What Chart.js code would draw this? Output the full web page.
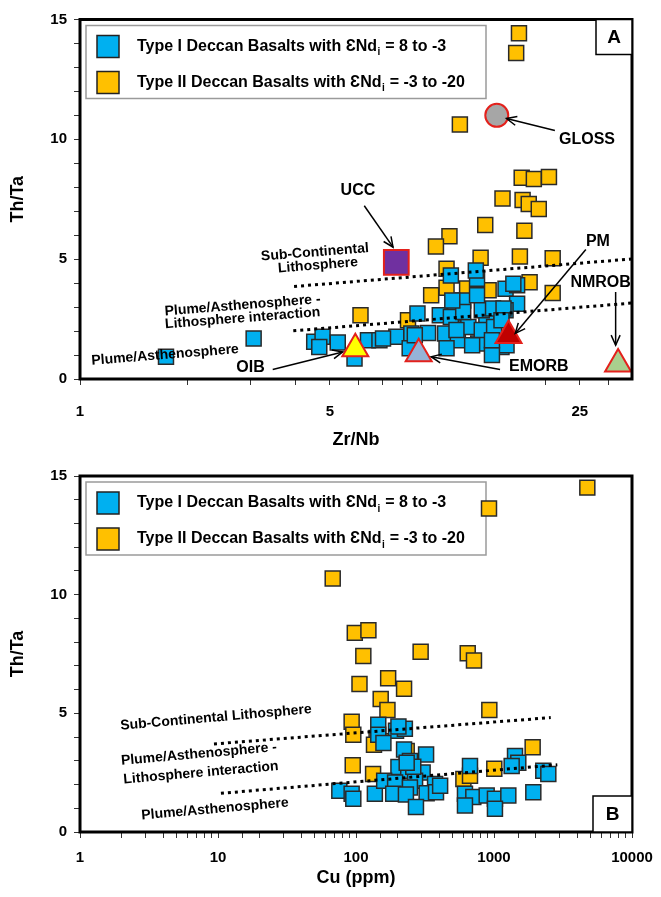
<!DOCTYPE html>
<html>
<head>
<meta charset="utf-8">
<script src="https://cdn.jsdelivr.net/npm/chart.js@4.4.1/dist/chart.umd.min.js"></script>
<style>
  html, body { margin: 0; padding: 0; background: #fff; }
  #wrap { position: relative; width: 661px; height: 897px; }
  canvas { position: absolute; left: 0; }
  #chartA { top: 0; }
  #chartB { top: 460px; }
</style>
</head>
<body>
<div id="wrap">
  <canvas id="chartA" width="661" height="460"></canvas>
  <canvas id="chartB" width="661" height="437"></canvas>
</div>
<script>
const FONT = "'Liberation Sans', Arial, sans-serif";
const BLUE = '#00B0F0';
const YELLOW = '#FFC000';
const RED = '#E3211C';

const seriesNames = [
    'Type I Deccan Basalts with ƐNd_i = 8 to -3',
    'Type II Deccan Basalts with ƐNd_i = -3 to -20',
];

// Panel A: Zr/Nb vs Th/Ta
const typeIZrNb = [1.74, 3.06, 4.52, 4.77, 4.67, 5.26, 5.86, 6.39, 6.88, 7.67, 8.45, 9.41, 10.5, 11.4, 13.0,
    15.1, 15.6, 10.6, 14.2, 8.36, 8.79, 10.15, 11.2, 11.8, 12.9, 10.9, 12.9, 12.8, 15.5, 16.7,
    16.7, 15.5, 13.7, 12.2, 13.3, 14.4, 10.9, 13.3, 14.3, 15.3, 15.1, 11.3, 8.64, 7.04, 14.2,
    12.5, 11.8, 16.3, 11.0];
const typeIThTaA = [0.93, 1.69, 1.55, 1.76, 1.34, 1.52, 0.86, 1.62, 1.62, 1.76, 1.90, 1.92, 1.90, 1.62, 1.48,
    1.34, 1.41, 1.28, 1.00, 1.28, 2.73, 2.66, 2.73, 3.28, 3.49, 4.32, 4.18, 4.53, 3.77, 3.91,
    3.14, 2.87, 2.59, 2.17, 2.04, 2.17, 2.59, 2.87, 2.94, 2.94, 2.45, 2.04, 1.83, 1.69, 1.62,
    1.41, 2.80, 3.97, 3.28];
const typeIIZrNb = [16.9, 16.6, 11.55, 17.2, 18.6, 20.5, 15.2, 17.3, 18.0, 19.2, 13.6, 17.5, 10.8, 9.9, 13.2,
    17.0, 21.0, 10.6, 10.6, 9.6, 18.1, 21.0, 6.09, 12.1, 13.9, 8.27];
const typeIIThTaA = [14.43, 13.6, 10.62, 8.40, 8.34, 8.43, 7.53, 7.47, 7.30, 7.09, 6.43, 6.19, 5.96, 5.53, 5.06,
    5.11, 5.04, 4.60, 3.81, 3.49, 4.04, 3.59, 2.66, 3.78, 3.70, 2.45];

const refNames = ['GLOSS', 'UCC', 'OIB', 'EMORB', 'PM', 'NMROB'];
const refZrNb = [14.65, 7.67, 5.89, 8.86, 15.8, 32.0];
const refThTa = [11.0, 4.87, 1.26, 1.05, 1.81, 0.63];

// Panel B: Cu vs Th/Ta
const typeICu = [75.7, 93, 95.6, 137, 145, 145, 195, 226, 158, 223, 322, 246, 203, 239, 304,
    160, 192, 268, 374, 246, 186, 230, 325, 380, 272, 670, 1420, 1500, 1343, 2276,
    2475, 616, 708, 885, 1016, 1270, 1927, 616, 1016, 203, 260, 407, 233];
const typeIThTaB = [1.74, 1.61, 1.40, 1.61, 4.52, 4.10, 4.27, 4.35, 3.75, 3.48, 3.27, 2.99, 2.74, 2.58, 2.51,
    2.16, 2.09, 2.16, 2.02, 1.88, 1.61, 1.58, 1.63, 1.67, 1.05, 2.78, 3.20, 2.92, 2.78, 2.58,
    2.44, 1.61, 1.47, 1.54, 1.40, 1.54, 1.67, 1.12, 0.98, 4.45, 2.75, 1.95, 2.92];
const typeIICu = [67.8, 98, 123, 113, 294, 645, 716, 4745, 920, 106, 171, 223, 151, 169, 925,
    93, 95.6, 141, 153, 135, 1906, 94.7, 133, 1005, 600, 670, 233];
const typeIIThTaB = [10.68, 8.39, 8.50, 7.42, 7.59, 7.53, 7.23, 14.51, 13.63, 6.24, 6.48, 6.04, 5.60, 5.14, 5.14,
    4.65, 4.10, 3.96, 3.82, 3.68, 3.57, 2.81, 2.44, 2.67, 2.23, 2.37, 3.41];

// boundary lines (end points)
const upperLineA = [[3.97, 3.86], [35, 5.01]];
const lowerLineA = [[3.95, 2.01], [35, 3.17]];
const upperLineB = [[9.35, 3.71], [2577, 4.82]];
const lowerLineB = [[10.5, 1.63], [2876, 2.83]];

// axis ticks and labels
const thTaLabels = [0, 5, 10, 15];
const zrNbTicks = [1, 2, 3, 4, 5, 6, 7, 8, 9, 10, 20, 25, 30];
const zrNbLabels = [1, 5, 25];
const cuLabels = [1, 10, 100, 1000, 10000];

// annotations in data coordinates
const calloutText = ['UCC', 'GLOSS', 'PM', 'NMROB', 'EMORB', 'OIB'];
const calloutAt = [[5.99, 7.85], [26.2, 10.0], [28.1, 5.73], [28.6, 4.04], [19.2, 0.51], [3.0, 0.49]];
const arrowFrom = [[6.24, 7.23], [21.3, 10.37], [26.0, 5.40], [31.5, 3.63], [14.96, 0.40], [3.46, 0.40]];
const arrowTo = [[7.51, 5.50], [15.6, 10.87], [16.5, 1.90], [31.5, 1.41], [9.6, 0.93], [5.43, 1.13]];

const zoneTextA = ['Sub-Continental', 'Lithosphere', 'Plume/Asthenosphere -', 'Lithosphere interaction', 'Plume/Asthenosphere'];
const zoneAtA = [[4.54, 5.28], [4.63, 4.74], [2.85, 3.07], [2.85, 2.53], [1.73, 1.0]];
const zoneTextB = ['Sub-Continental Lithosphere', 'Plume/Asthenosphere -', 'Lithosphere interaction', 'Plume/Asthenosphere'];
const zoneAtB = [[9.67, 4.82], [7.28, 3.28], [7.53, 2.49], [9.51, 0.96]];

const refStyles = {
    GLOSS: { shape: 'circle', r: 11.5, fill: '#A6A6A6' },
    UCC: { shape: 'rect', r: 17.5, fill: '#7030A0' },
    OIB: { shape: 'triangle', r: 15, fill: '#FFFF00' },
    EMORB: { shape: 'triangle', r: 15, fill: '#95B3D7' },
    PM: { shape: 'triangle', r: 15, fill: '#C00000' },
    NMROB: { shape: 'triangle', r: 15, fill: '#A9D08E' },
};

function toPoints(xs, ys) {
    return xs.map((x, i) => ({ x, y: ys[i] }));
}

function squares(label, xs, ys, color, order) {
    return {
        label,
        data: toPoints(xs, ys),
        pointStyle: 'rect',
        pointRadius: 10.6,
        pointHoverRadius: 10.6,
        backgroundColor: color,
        borderColor: '#2a2a2a',
        borderWidth: 1.5,
        order,
    };
}

function dotted(line) {
    return {
        type: 'line',
        label: 'boundary',
        data: line.map(p => ({ x: p[0], y: p[1] })),
        showLine: true,
        borderColor: '#000',
        borderWidth: 3,
        borderDash: [3, 4],
        borderCapStyle: 'butt',
        pointRadius: 0,
        fill: false,
        order: 0,
    };
}

function drawArrow(ctx, x1, y1, x2, y2) {
    const a = Math.atan2(y2 - y1, x2 - x1);
    const h = 11;
    ctx.beginPath();
    ctx.moveTo(x1, y1);
    ctx.lineTo(x2, y2);
    ctx.stroke();
    ctx.beginPath();
    ctx.moveTo(x2 - h * Math.cos(a - 0.42), y2 - h * Math.sin(a - 0.42));
    ctx.lineTo(x2, y2);
    ctx.lineTo(x2 - h * Math.cos(a + 0.42), y2 - h * Math.sin(a + 0.42));
    ctx.stroke();
}

function drawLegend(ctx, ca) {
    const left = ca.left + 6;
    const top = ca.top + 6;
    ctx.save();
    ctx.fillStyle = '#fff';
    ctx.fillRect(left, top, 400, 73);
    ctx.strokeStyle = '#9a9a9a';
    ctx.lineWidth = 1.5;
    ctx.strokeRect(left, top, 400, 73);
    [BLUE, YELLOW].forEach((color, i) => {
        const cy = top + 21 + i * 36;
        ctx.fillStyle = color;
        ctx.fillRect(left + 11, cy - 11, 22, 22);
        ctx.strokeStyle = '#222';
        ctx.lineWidth = 1.5;
        ctx.strokeRect(left + 11, cy - 11, 22, 22);

        const parts = seriesNames[i].split('_i');
        let x = left + 51;
        ctx.fillStyle = '#000';
        ctx.textBaseline = 'middle';
        ctx.textAlign = 'left';
        ctx.font = 'bold 16px ' + FONT;
        ctx.fillText(parts[0], x, cy);
        x += ctx.measureText(parts[0]).width;
        ctx.font = 'bold 10px ' + FONT;
        ctx.fillText('i', x + 0.5, cy + 6);
        x += ctx.measureText('i').width + 1;
        ctx.font = 'bold 16px ' + FONT;
        ctx.fillText(parts[1], x, cy);
    });
    ctx.restore();
}

function makeDecor(opts) {
    return {
        id: 'decor' + opts.tag,
        beforeDatasetsDraw(chart) {
            drawLegend(chart.ctx, chart.chartArea);
        },
        afterDraw(chart) {
            const { ctx, chartArea: ca, scales } = chart;
            const px = p => [scales.x.getPixelForValue(p[0]), scales.y.getPixelForValue(p[1])];
            ctx.save();

            // frame
            ctx.strokeStyle = '#000';
            ctx.lineWidth = 3;
            ctx.strokeRect(ca.left, ca.top, ca.width, ca.height);

            // panel tag
            const tw = opts.tagW, th = opts.tagH;
            const tx = ca.right - tw;
            const ty = opts.tagAtTop ? ca.top : ca.bottom - th;
            ctx.fillStyle = '#fff';
            ctx.fillRect(tx, ty, tw, th);
            ctx.lineWidth = 1.5;
            ctx.strokeRect(tx, ty, tw, th);
            ctx.fillStyle = '#000';
            ctx.font = 'bold 19px ' + FONT;
            ctx.textAlign = 'center';
            ctx.textBaseline = 'middle';
            ctx.fillText(opts.tag, tx + tw / 2, ty + th / 2 + 1);

            // zone labels
            ctx.font = 'bold 14px ' + FONT;
            opts.zoneText.forEach((t, i) => {
                const [x, y] = px(opts.zoneAt[i]);
                ctx.save();
                ctx.translate(x, y);
                ctx.rotate(opts.zoneAngle * Math.PI / 180);
                ctx.fillText(t, 0, 0);
                ctx.restore();
            });

            // callouts with arrows
            if (opts.callouts) {
                ctx.font = 'bold 16px ' + FONT;
                ctx.lineWidth = 1.5;
                ctx.strokeStyle = '#000';
                calloutText.forEach((t, i) => {
                    const [x, y] = px(calloutAt[i]);
                    ctx.fillText(t, x, y);
                    const [x1, y1] = px(arrowFrom[i]);
                    const [x2, y2] = px(arrowTo[i]);
                    drawArrow(ctx, x1, y1, x2, y2);
                });
            }
            ctx.restore();
        },
    };
}

function yAxis() {
    return {
        min: 0,
        max: 15,
        afterFit: s => { s.width = 80; },
        ticks: {
            stepSize: 1,
            autoSkip: false,
            padding: 7,
            color: '#000',
            font: { family: FONT, size: 15, weight: 'bold' },
            callback: v => (thTaLabels.includes(v) ? String(v) : ''),
        },
        grid: { drawOnChartArea: false, drawTicks: true, tickLength: 6, color: '#333', lineWidth: 1 },
        border: { display: false },
        title: {
            display: true,
            text: 'Th/Ta',
            color: '#000',
            font: { family: FONT, size: 18, weight: 'bold' },
            padding: { top: 7, bottom: 0 },
        },
    };
}

function xAxis(max, tickValues, labels, title, height, labelPad, titlePad) {
    return {
        type: 'logarithmic',
        min: 1,
        max,
        afterFit: s => {
            s.height = height;
            s.paddingLeft = 0;
            s.paddingRight = 0;
        },
        afterBuildTicks: s => {
            if (tickValues) s.ticks = tickValues.map(v => ({ value: v }));
        },
        ticks: {
            autoSkip: false,
            maxRotation: 0,
            padding: labelPad,
            color: '#000',
            font: { family: FONT, size: 15, weight: 'bold' },
            callback: v => (labels.includes(v) ? String(v) : ''),
        },
        grid: { drawOnChartArea: false, drawTicks: true, tickLength: 6, color: '#333', lineWidth: 1 },
        border: { display: false },
        title: {
            display: true,
            text: title,
            color: '#000',
            font: { family: FONT, size: 18, weight: 'bold' },
            padding: { top: 0, bottom: titlePad },
        },
    };
}

function refDataset() {
    return {
        label: 'Reference reservoirs',
        data: toPoints(refZrNb, refThTa),
        pointStyle: refNames.map(n => refStyles[n].shape),
        pointRadius: refNames.map(n => refStyles[n].r),
        pointHoverRadius: refNames.map(n => refStyles[n].r),
        backgroundColor: refNames.map(n => refStyles[n].fill),
        borderColor: RED,
        borderWidth: 2,
        order: 1,
    };
}

const baseOptions = {
    responsive: false,
    animation: false,
    events: [],
    plugins: { legend: { display: false }, tooltip: { enabled: false } },
};

new Chart(document.getElementById('chartA'), {
    type: 'scatter',
    data: {
        datasets: [
            dotted(upperLineA),
            dotted(lowerLineA),
            refDataset(),
            squares(seriesNames[0], typeIZrNb, typeIThTaA, BLUE, 2),
            squares(seriesNames[1], typeIIZrNb, typeIIThTaA, YELLOW, 3),
        ],
    },
    options: {
        ...baseOptions,
        layout: { padding: { top: 18, right: 29, left: 0, bottom: 0 } },
        scales: {
            x: xAxis(35, zrNbTicks, zrNbLabels, 'Zr/Nb', 81, 18, 9),
            y: yAxis(),
        },
    },
    plugins: [makeDecor({
        tag: 'A', tagW: 36, tagH: 35, tagAtTop: true,
        zoneText: zoneTextA, zoneAt: zoneAtA, zoneAngle: -4.5, callouts: true,
    })],
});

new Chart(document.getElementById('chartB'), {
    type: 'scatter',
    data: {
        datasets: [
            dotted(upperLineB),
            dotted(lowerLineB),
            squares(seriesNames[0], typeICu, typeIThTaB, BLUE, 2),
            squares(seriesNames[1], typeIICu, typeIIThTaB, YELLOW, 3),
        ],
    },
    options: {
        ...baseOptions,
        layout: { padding: { top: 11, right: 29, left: 0, bottom: 0 } },
        scales: {
            x: xAxis(10000, null, cuLabels, 'Cu (ppm)', 65, 11, 8),
            y: yAxis(),
        },
    },
    plugins: [makeDecor({
        tag: 'B', tagW: 39, tagH: 36, tagAtTop: false,
        zoneText: zoneTextB, zoneAt: zoneAtB, zoneAngle: -5, callouts: false,
    })],
});
</script>
</body>
</html>
